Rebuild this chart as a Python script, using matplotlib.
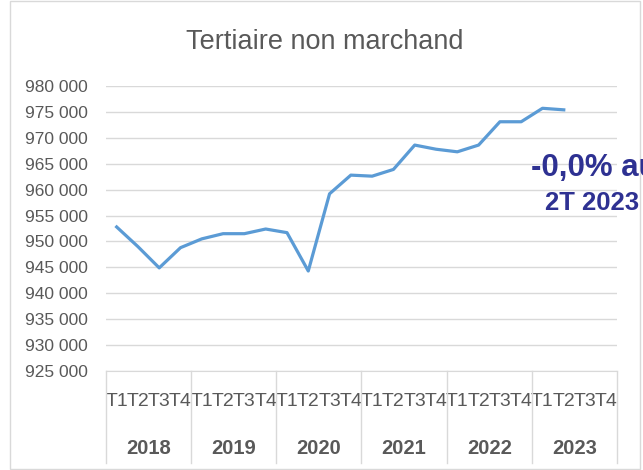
import matplotlib
matplotlib.use("Agg")
from matplotlib import pyplot as plt
import matplotlib.transforms as mtransforms
from matplotlib.patches import Rectangle

years = ["2018", "2019", "2020", "2021", "2022", "2023"]
quarters = ["T1", "T2", "T3", "T4"]
effectifs = [952800, 949000, 944900, 948800,
             950500, 951500, 951500, 952400,
             951700, 944300, 959200, 962800,
             962600, 963900, 968600, 967800,
             967300, 968600, 973100, 973100,
             975700, 975400]
yticks = list(range(925000, 980001, 5000))

grey = "#595959"
fig = plt.figure(figsize=(6.43, 4.70), dpi=100)
ax = fig.add_axes([106 / 643, 1 - 371 / 470, (617 - 106) / 643, (371 - 86) / 470])

# cadre du graphique
fig.patches.append(Rectangle((10 / 643, 0.002), (640 - 10) / 643, 0.996,
                             transform=fig.transFigure, fill=False,
                             edgecolor="#d9d9d9", linewidth=1))

n = len(years) * len(quarters)
xs = list(range(len(effectifs)))
ax.plot(xs, effectifs, color="#5B9BD5", linewidth=2.3, solid_joinstyle="round")

ax.set_xlim(-0.5, n - 0.5)
ax.set_ylim(925000, 980000)
ax.set_yticks(yticks)
ax.set_yticklabels([f"{v // 1000} 000" for v in yticks], fontsize=12.5,
                   color=grey, family="Liberation Sans")
ax.grid(axis="y", color="#d9d9d9", linewidth=1)
ax.set_axisbelow(True)
for s in ["top", "right", "left"]:
    ax.spines[s].set_visible(False)
ax.spines["bottom"].set_color("#d9d9d9")
ax.tick_params(axis="both", length=0)
ax.tick_params(axis="y", pad=13)

ax.set_xticks(range(n))
ax.set_xticklabels(quarters * len(years), fontsize=14, color=grey,
                   family=["Liberation Sans Narrow", "Liberation Sans"])
ax.tick_params(axis="x", pad=16)

trans = mtransforms.blended_transform_factory(ax.transData, ax.transAxes)
drop = (463 - 371) / 285
for i in range(len(years) + 1):
    ax.plot([i * 4 - 0.5] * 2, [0, -drop], transform=trans, color="#d9d9d9",
            linewidth=1, clip_on=False)
for i, y in enumerate(years):
    ax.text(i * 4 + 1.5, -(448 - 371) / 285, y, transform=trans, ha="center",
            va="center", fontsize=14.5, fontweight="bold", color=grey,
            family="Liberation Sans")

fig.text(325 / 643, 1 - 42 / 470, "Tertiaire non marchand", ha="center",
         va="center", fontsize=19.5, color=grey, family="Liberation Sans")

fig.text(531 / 643, 1 - 168 / 470, "-0,0% au", ha="left", va="center",
         fontsize=22.5, fontweight="bold", color="#2E3192", family="Liberation Sans")
fig.text(545 / 643, 1 - 203 / 470, "2T 2023", ha="left", va="center",
         fontsize=18.5, fontweight="bold", color="#2E3192", family="Liberation Sans")

fig.savefig("out.png", dpi=100)
